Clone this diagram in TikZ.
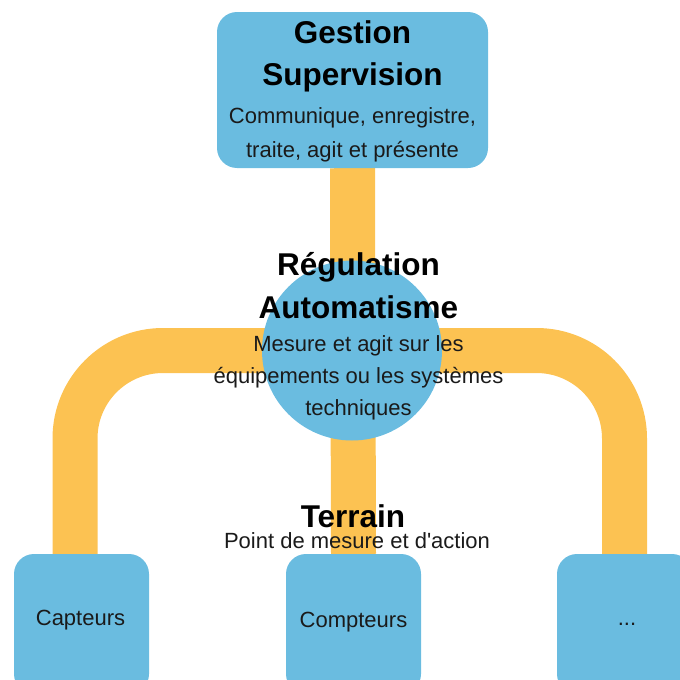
\documentclass[tikz,border=0pt]{standalone}
\usepackage{fontspec}
\setmainfont{Liberation Sans}
\usetikzlibrary{backgrounds}
\definecolor{boxblue}{HTML}{6ABCE0}
\definecolor{barorange}{HTML}{FCC252}
\definecolor{ink}{HTML}{1A1A1A}
\begin{document}
\begin{tikzpicture}[x=1pt,y=-1pt,
  blk/.style={fill=boxblue, draw=none, rounded corners=20pt, inner sep=0pt},
  bar/.style={draw=barorange, line width=45pt},
  ttl/.style={font=\fontsize{31.5}{37}\selectfont\bfseries, anchor=base, inner sep=0pt, text=black},
  txt/.style={font=\fontsize{22}{26}\selectfont, anchor=base, inner sep=0pt, text=ink}]
\useasboundingbox (0,0) rectangle (680,680);
% shapes
\node[blk, minimum width=271pt, minimum height=156pt] (top) at (352.5,90) {};
\node[circle, fill=boxblue, draw=none, minimum size=180pt, inner sep=0pt] (circ) at (352,350.5) {};
\node[blk, minimum width=135pt, minimum height=140pt] (left) at (81.5,624) {};
\node[blk, minimum width=135pt, minimum height=140pt] (mid) at (353.5,624) {};
\node[blk, minimum width=135pt, minimum height=140pt] (right) at (624.5,624) {};
% connectors
\begin{scope}[on background layer]
  \draw[bar] (top.south) -- (mid.north);
  \draw[bar, rounded corners=88pt] ([xshift=-6.5pt]left.north) |- (circ.center) -| (right.north);
\end{scope}
% texts
\node[ttl] (g1) at (352.5,43) {Gestion};
\node[ttl] (g2) at (352.5,85) {Supervision};
\node[txt] (g3) at (352.5,123.5) {Communique, enregistre,};
\node[txt] (g4) at (352.5,157) {traite, agit et présente};
\node[ttl] (r1) at (358.5,275) {Régulation};
\node[ttl] (r2) at (358.5,318) {Automatisme};
\node[txt] (r3) at (358.5,351) {Mesure et agit sur les};
\node[txt] (r4) at (358.5,383) {équipements ou les systèmes};
\node[txt] (r5) at (358.5,415) {techniques};
\node[ttl] (f1) at (353,527) {Terrain};
\node[txt] (f2) at (357,548) {Point de mesure et d\textquotesingle action};
\node[txt] (c1) at (80.5,625) {Capteurs};
\node[txt] (c2) at (353.5,627) {Compteurs};
\node[txt] (c3) at (627,625) {...};
\end{tikzpicture}
\end{document}
